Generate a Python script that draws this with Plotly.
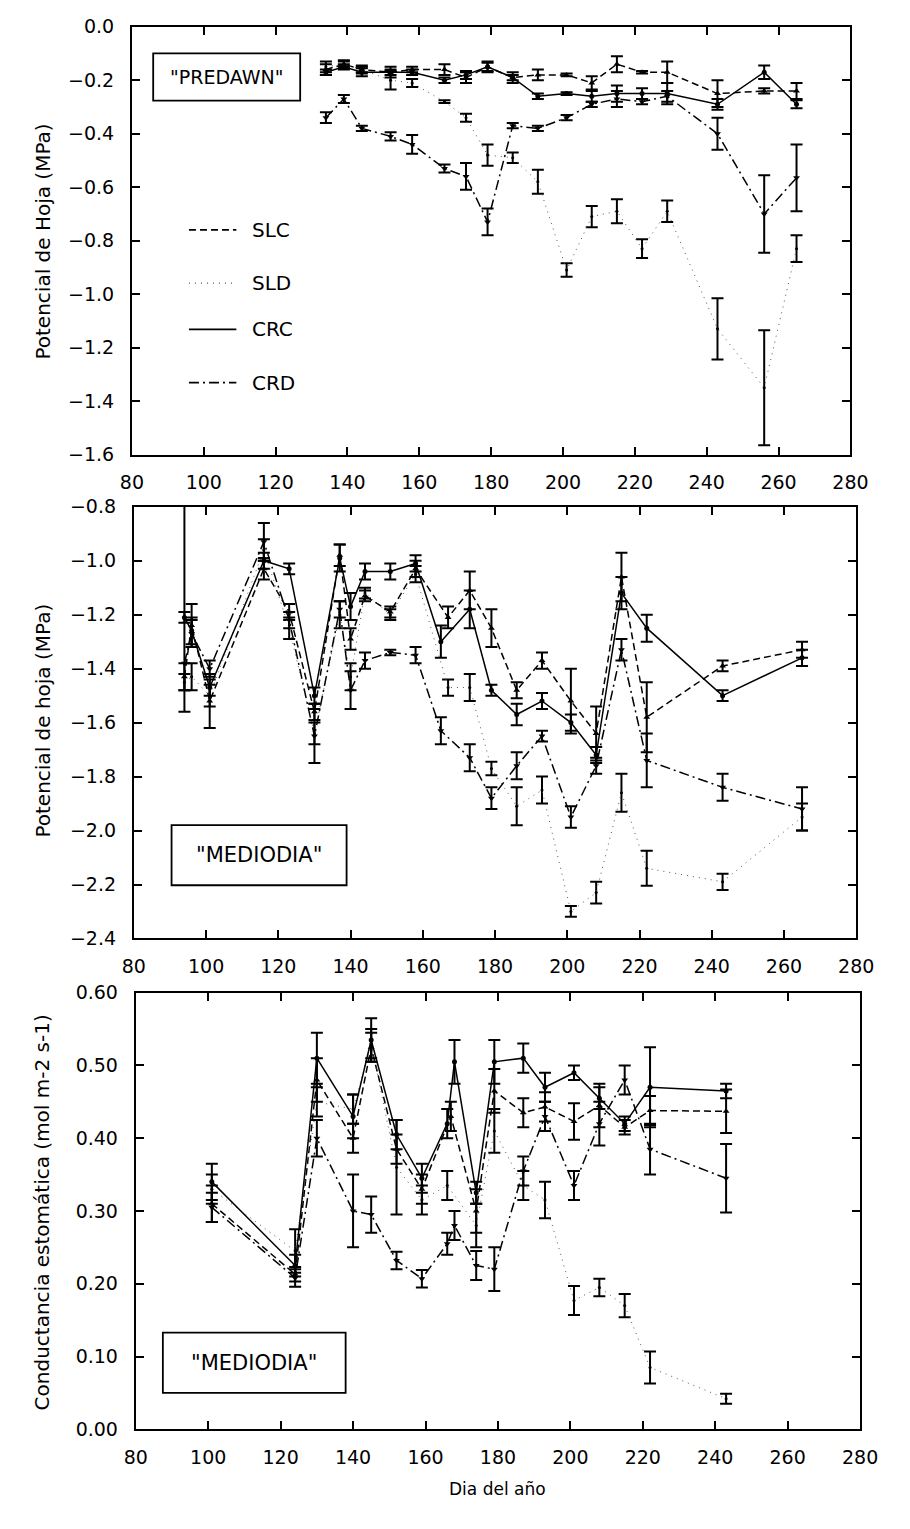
import plotly.graph_objects as go

W, H = 910, 1529

# ---------------- Panel 1: predawn leaf water potential (MPa) ----------------
days_pd = [134, 139, 144, 152, 158, 167, 173, 179, 186, 193, 201, 208, 215, 222, 229, 243, 256, 265]
pd_slc = [-0.16, -0.14, -0.16, -0.17, -0.16, -0.16, -0.19, -0.15, -0.19, -0.18, -0.18, -0.21, -0.14, -0.17, -0.17, -0.25, -0.24, -0.24]
pd_slc_err = [0.02, 0.015, 0.015, 0.02, 0.01, 0.02, 0.02, 0.015, 0.02, 0.02, 0.005, 0.025, 0.03, 0.005, 0.04, 0.05, 0.01, 0.03]
pd_sld = [-0.15, -0.14, -0.16, -0.20, -0.21, -0.28, -0.34, -0.48, -0.49, -0.58, -0.91, -0.71, -0.69, -0.83, -0.69, -1.13, -1.35, -0.83]
pd_sld_err = [0.02, 0.01, 0.01, 0.035, 0.015, 0.005, 0.015, 0.04, 0.02, 0.045, 0.025, 0.04, 0.045, 0.035, 0.04, 0.115, 0.215, 0.05]
pd_crc = [-0.17, -0.15, -0.17, -0.17, -0.17, -0.20, -0.18, -0.15, -0.19, -0.26, -0.25, -0.26, -0.25, -0.25, -0.25, -0.29, -0.17, -0.29]
pd_crc_err = [0.01, 0.01, 0.015, 0.01, 0.01, 0.01, 0.015, 0.02, 0.01, 0.01, 0.005, 0.02, 0.03, 0.02, 0.04, 0.02, 0.025, 0.015]
pd_crd = [-0.34, -0.27, -0.38, -0.41, -0.44, -0.53, -0.56, -0.73, -0.37, -0.38, -0.34, -0.29, -0.27, -0.28, -0.26, -0.40, -0.70, -0.565]
pd_crd_err = [0.02, 0.015, 0.01, 0.015, 0.035, 0.015, 0.05, 0.05, 0.01, 0.01, 0.01, 0.01, 0.03, 0.01, 0.02, 0.06, 0.145, 0.125]

# ---------------- Panel 2: midday leaf water potential (MPa) ----------------
days_md_s = [94, 96, 101, 116, 123, 130, 137, 140, 144, 151, 158, 167, 173, 179, 186, 193, 201, 208, 215, 222, 243, 265]
days_md_c = [94, 96, 101, 116, 123, 130, 137, 140, 144, 151, 158, 165, 173, 179, 186, 193, 201, 208, 215, 222, 243, 265]
md_slc = [-1.43, -1.24, -1.52, -1.03, -1.19, -1.56, -0.98, -1.29, -1.13, -1.19, -1.03, -1.21, -1.11, -1.25, -1.48, -1.37, -1.52, -1.64, -1.06, -1.58, -1.39, -1.33]
md_slc_err = [0.05, 0.08, 0.10, 0.04, 0.03, 0.03, 0.04, 0.04, 0.02, 0.02, 0.03, 0.04, 0.07, 0.07, 0.03, 0.03, 0.12, 0.10, 0.09, 0.13, 0.02, 0.03]
md_sld = [-1.45, -1.43, -1.50, -0.96, -1.25, -1.64, -1.20, -1.43, -1.12, -1.20, -1.05, -1.47, -1.47, -1.77, -1.91, -1.85, -2.30, -2.23, -1.86, -2.14, -2.19, -1.95]
md_sld_err = [0.03, 0.05, 0.04, 0.04, 0.04, 0.04, 0.05, 0.05, 0.02, 0.02, 0.03, 0.03, 0.05, 0.025, 0.07, 0.05, 0.02, 0.04, 0.07, 0.065, 0.03, 0.05]
md_crc = [-1.21, -1.26, -1.47, -1.00, -1.03, -1.50, -0.99, -1.17, -1.04, -1.04, -1.01, -1.30, -1.18, -1.48, -1.57, -1.52, -1.60, -1.72, -1.12, -1.25, -1.50, -1.36]
md_crc_err = [0.02, 0.05, 0.03, 0.03, 0.02, 0.03, 0.05, 0.05, 0.03, 0.03, 0.03, 0.06, 0.07, 0.02, 0.04, 0.03, 0.03, 0.03, 0.06, 0.05, 0.02, 0.03]
md_crd = [-1.38, -1.27, -1.40, -0.93, -1.22, -1.65, -1.18, -1.48, -1.37, -1.34, -1.35, -1.63, -1.73, -1.88, -1.76, -1.65, -1.95, -1.76, -1.33, -1.74, -1.84, -1.92]
md_crd_err_up = [0.60, 0.05, 0.03, 0.07, 0.03, 0.10, 0.03, 0.07, 0.03, 0.01, 0.03, 0.05, 0.05, 0.04, 0.05, 0.02, 0.04, 0.03, 0.04, 0.10, 0.05, 0.08]
md_crd_err_dn = [0.18, 0.05, 0.03, 0.07, 0.03, 0.10, 0.03, 0.07, 0.03, 0.01, 0.03, 0.05, 0.05, 0.04, 0.05, 0.02, 0.04, 0.03, 0.04, 0.10, 0.05, 0.08]

# ---------------- Panel 3: midday stomatal conductance (mol m-2 s-1) ----------------
days_gs_crc = [101, 124, 130, 140, 145, 152, 159, 166, 168, 174, 179, 187, 193, 201, 208, 215, 222, 243]
gs_crc = [0.34, 0.225, 0.51, 0.43, 0.535, 0.405, 0.345, 0.42, 0.505, 0.325, 0.505, 0.51, 0.47, 0.49, 0.455, 0.42, 0.47, 0.465]
gs_crc_err = [0.025, 0.015, 0.035, 0.03, 0.03, 0.02, 0.02, 0.02, 0.03, 0.015, 0.03, 0.02, 0.02, 0.01, 0.015, 0.01, 0.055, 0.01]
days_gs_slc = [101, 124, 130, 140, 145, 152, 159, 167, 174, 179, 187, 193, 201, 208, 215, 222, 243]
gs_slc = [0.31, 0.213, 0.48, 0.40, 0.525, 0.385, 0.33, 0.43, 0.30, 0.465, 0.435, 0.443, 0.423, 0.445, 0.415, 0.438, 0.437]
gs_slc_err = [0.025, 0.01, 0.03, 0.02, 0.02, 0.02, 0.02, 0.02, 0.03, 0.03, 0.02, 0.02, 0.025, 0.03, 0.01, 0.02, 0.03]
days_gs_sld = [101, 124, 130, 140, 145, 152, 159, 166, 174, 179, 187, 193, 201, 208, 215, 222, 243]
gs_sld = [0.33, 0.245, 0.45, 0.44, 0.53, 0.36, 0.315, 0.335, 0.28, 0.41, 0.335, 0.315, 0.177, 0.195, 0.17, 0.085, 0.042]
gs_sld_err = [0.02, 0.03, 0.02, 0.02, 0.02, 0.065, 0.02, 0.02, 0.03, 0.03, 0.02, 0.025, 0.02, 0.012, 0.016, 0.022, 0.007]
days_gs_crd = [101, 124, 130, 140, 145, 152, 159, 166, 168, 174, 179, 187, 193, 201, 208, 215, 222, 243]
gs_crd = [0.305, 0.208, 0.40, 0.30, 0.295, 0.232, 0.207, 0.255, 0.28, 0.225, 0.22, 0.355, 0.43, 0.335, 0.42, 0.48, 0.385, 0.345]
gs_crd_err = [0.02, 0.012, 0.025, 0.05, 0.025, 0.012, 0.012, 0.015, 0.02, 0.02, 0.03, 0.02, 0.02, 0.02, 0.03, 0.02, 0.035, 0.047]

x_ticks = list(range(80, 281, 20))
series_names = ["SLC", "SLD", "CRC", "CRD"]

FONT = "DejaVu Sans"
STYLE = {
    "SLC": dict(line=dict(color="black", width=1.5, dash="7px,4px"), symbol="triangle-up", size=6),
    "SLD": dict(line=dict(color="#555555", width=1.0, dash="1px,5px"), symbol="circle", size=3),
    "CRC": dict(line=dict(color="black", width=1.5, dash="solid"), symbol="circle", size=5),
    "CRD": dict(line=dict(color="black", width=1.5, dash="10px,4px,2px,4px"), symbol="triangle-down", size=6),
}


def px_x(p):
    return p / W


def px_y(p):
    return 1 - p / H


fig = go.Figure()


def add_series(name, x, y, err, xa, ya, err_minus=None):
    st = STYLE[name]
    fig.add_trace(go.Scatter(
        x=x, y=y, mode="lines+markers", name=name, showlegend=False,
        line=st["line"],
        marker=dict(symbol=st["symbol"], size=st["size"], color="black"),
        error_y=dict(type="data", array=err,
                     arrayminus=err_minus if err_minus is not None else err,
                     color="black", thickness=2, width=6),
        xaxis=xa, yaxis=ya,
    ))


# Panel 1
add_series("SLC", days_pd, pd_slc, pd_slc_err, "x", "y")
add_series("SLD", days_pd, pd_sld, pd_sld_err, "x", "y")
add_series("CRC", days_pd, pd_crc, pd_crc_err, "x", "y")
add_series("CRD", days_pd, pd_crd, pd_crd_err, "x", "y")

# Panel 2
add_series("SLC", days_md_s, md_slc, md_slc_err, "x2", "y2")
add_series("SLD", days_md_s, md_sld, md_sld_err, "x2", "y2")
add_series("CRC", days_md_c, md_crc, md_crc_err, "x2", "y2")
add_series("CRD", days_md_c, md_crd, md_crd_err_up, "x2", "y2", err_minus=md_crd_err_dn)

# Panel 3
add_series("SLC", days_gs_slc, gs_slc, gs_slc_err, "x3", "y3")
add_series("SLD", days_gs_sld, gs_sld, gs_sld_err, "x3", "y3")
add_series("CRC", days_gs_crc, gs_crc, gs_crc_err, "x3", "y3")
add_series("CRD", days_gs_crd, gs_crd, gs_crd_err, "x3", "y3")

tick_font = dict(family=FONT, size=19, color="black")


def xaxis_cfg(left, right, anchor):
    return dict(
        domain=[px_x(left), px_x(right)], anchor=anchor, range=[80, 280],
        tickvals=x_ticks, ticks="inside", ticklen=8, tickwidth=1.5, tickcolor="black",
        showline=True, linecolor="black", linewidth=2, mirror="ticks",
        showgrid=False, zeroline=False, tickfont=tick_font, ticklabelstandoff=10,
    )


def yaxis_cfg(top, bottom, anchor, rng, dtick, fmt):
    return dict(
        domain=[px_y(bottom), px_y(top)], anchor=anchor, range=rng,
        tick0=rng[0], dtick=dtick, tickformat=fmt,
        ticks="inside", ticklen=8, tickwidth=1.5, tickcolor="black",
        showline=True, linecolor="black", linewidth=2, mirror="ticks",
        showgrid=False, zeroline=False, tickfont=tick_font, ticklabelstandoff=12,
    )


fig.update_layout(
    width=W, height=H,
    margin=dict(l=0, r=0, t=0, b=0),
    paper_bgcolor="white", plot_bgcolor="white",
    showlegend=False,
    xaxis=xaxis_cfg(124, 867, "y"),
    yaxis=yaxis_cfg(16, 450, "x", [-1.6, 0.0], 0.2, ".1f"),
    xaxis2=xaxis_cfg(126, 873, "y2"),
    yaxis2=yaxis_cfg(503, 941, "x2", [-2.4, -0.8], 0.2, ".1f"),
    xaxis3=xaxis_cfg(128, 877, "y3"),
    yaxis3=yaxis_cfg(996, 1439, "x3", [0.0, 0.6], 0.1, ".2f"),
)

shapes = []
annotations = []

# Boxed panel labels
for (x0, y0, x1, y1, label, size) in [
    (146, 43, 298, 91, '"PREDAWN"', 19),
    (165, 826, 346, 887, '"MEDIODIA"', 21),
    (156, 1341, 345, 1402, '"MEDIODIA"', 21),
]:
    shapes.append(dict(type="rect", xref="paper", yref="paper",
                       x0=px_x(x0), x1=px_x(x1), y0=px_y(y1), y1=px_y(y0),
                       line=dict(color="black", width=1.8), fillcolor="white", layer="below"))
    annotations.append(dict(xref="paper", yref="paper", x=px_x((x0 + x1) / 2), y=px_y((y0 + y1) / 2),
                            text=label, showarrow=False, xanchor="center", yanchor="middle",
                            font=dict(family=FONT, size=size, color="black")))

# Line-style key in the predawn panel
key_rows = [222, 276, 323, 377]
for name, yk in zip(series_names, key_rows):
    st = STYLE[name]
    shapes.append(dict(type="line", xref="paper", yref="paper",
                       x0=px_x(183), x1=px_x(232), y0=px_y(yk), y1=px_y(yk),
                       line=dict(color=st["line"]["color"], width=st["line"]["width"] + 0.3,
                                 dash=st["line"]["dash"])))
    annotations.append(dict(xref="paper", yref="paper", x=px_x(246), y=px_y(yk),
                            text=name, showarrow=False, xanchor="left", yanchor="middle",
                            font=dict(family=FONT, size=20, color="black")))

# Axis titles
for text, yc in [
    ("Potencial de Hoja (MPa)", 234),
    ("Potencial de hoja (MPa)", 720),
    ("Conductancia estomática (mol m-2 s-1)", 1219),
]:
    annotations.append(dict(xref="paper", yref="paper", x=px_x(32), y=px_y(yc),
                            text=text, showarrow=False, textangle=-90,
                            xanchor="center", yanchor="middle",
                            font=dict(family=FONT, size=20, color="black")))

annotations.append(dict(xref="paper", yref="paper", x=px_x(502), y=px_y(1500),
                        text="Dia del año", showarrow=False, xanchor="center", yanchor="middle",
                        font=dict(family=FONT, size=17, color="black")))

fig.update_layout(shapes=shapes, annotations=annotations)

fig.write_html("out.html")
